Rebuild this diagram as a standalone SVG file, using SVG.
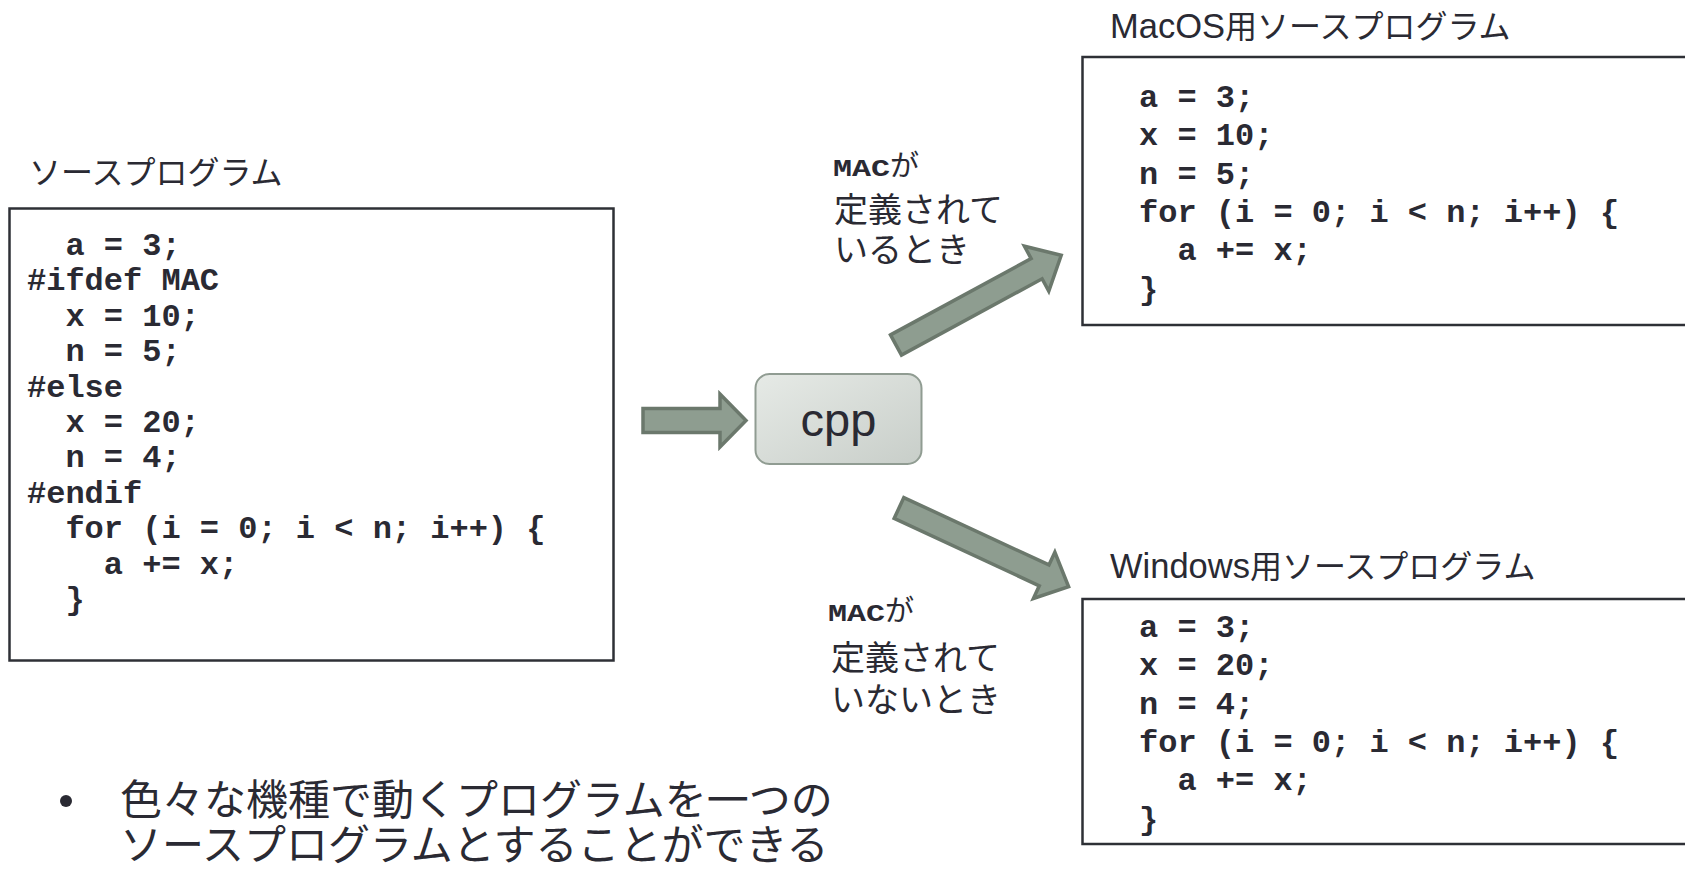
<svg xmlns="http://www.w3.org/2000/svg" width="1685" height="872" viewBox="0 0 1685 872">
<defs>
<linearGradient id="cppGrad" x1="0" y1="0" x2="1" y2="1">
<stop offset="0" stop-color="#e6eae6"/>
<stop offset="1" stop-color="#c8cec9"/>
</linearGradient>
<style>
.code{font-family:"Liberation Mono","Courier New",monospace;font-weight:bold;font-size:32px;fill:#2a2a33}
.title{font-family:"Noto Sans CJK JP",sans-serif;font-size:32px;fill:#2a2a33}
.lat{font-family:"Liberation Sans",Arial,sans-serif;font-size:34.5px}
.lbl{font-family:"Noto Sans CJK JP",sans-serif;font-size:34px;fill:#2a2a33}
.mac{font-family:"Liberation Mono","Courier New",monospace;font-weight:bold;font-size:24px}
.bullet{font-family:"Noto Sans CJK JP",sans-serif;font-size:42px;fill:#2a2a33}
.box{fill:#ffffff;stroke:#2e3036;stroke-width:2.5}
.arrow{fill:#8e9d90;stroke:#6b786c;stroke-width:3.5;stroke-linejoin:miter}
</style>
</defs>
<rect width="1685" height="872" fill="#ffffff"/>

<g id="source">
<text class="title" x="29" y="184">ソースプログラム</text>
<rect class="box" x="9.5" y="208.5" width="604" height="452"/>
<text class="code" x="65.4" y="255">a = 3;</text>
<text class="code" x="27" y="290.4">#ifdef MAC</text>
<text class="code" x="65.4" y="325.8">x = 10;</text>
<text class="code" x="65.4" y="361.2">n = 5;</text>
<text class="code" x="27" y="396.6">#else</text>
<text class="code" x="65.4" y="432">x = 20;</text>
<text class="code" x="65.4" y="467.4">n = 4;</text>
<text class="code" x="27" y="502.8">#endif</text>
<text class="code" x="65.4" y="538.2">for (i = 0; i &lt; n; i++) {</text>
<text class="code" x="103.8" y="573.6">a += x;</text>
<text class="code" x="65.4" y="609">}</text>
</g>

<g id="cpp">
<rect x="755.5" y="374" width="166" height="90" rx="14" ry="14" fill="url(#cppGrad)" stroke="#909c92" stroke-width="2"/>
<text x="838.5" y="436" text-anchor="middle" font-family="Liberation Sans, Arial, sans-serif" font-size="47" fill="#2a2a33">cpp</text>
</g>

<g id="macos">
<text class="title" x="1110" y="38"><tspan class="lat">MacOS</tspan>用ソースプログラム</text>
<rect class="box" x="1082.5" y="57" width="620" height="268"/>
<text class="code" x="1139" y="107">a = 3;</text>
<text class="code" x="1139" y="145">x = 10;</text>
<text class="code" x="1139" y="184">n = 5;</text>
<text class="code" x="1139" y="222">for (i = 0; i &lt; n; i++) {</text>
<text class="code" x="1177.4" y="260">a += x;</text>
<text class="code" x="1139" y="299">}</text>
</g>

<g id="windows">
<text class="title" x="1110" y="578"><tspan class="lat">Windows</tspan>用ソースプログラム</text>
<rect class="box" x="1082.5" y="599" width="620" height="245"/>
<text class="code" x="1139" y="637">a = 3;</text>
<text class="code" x="1139" y="675">x = 20;</text>
<text class="code" x="1139" y="714">n = 4;</text>
<text class="code" x="1139" y="752">for (i = 0; i &lt; n; i++) {</text>
<text class="code" x="1177.4" y="790">a += x;</text>
<text class="code" x="1139" y="829">}</text>
</g>

<g id="connectors">
<polygon class="arrow" transform="translate(643,420.5)" points="0,-12 77,-12 77,-26.5 103,0 77,26.5 77,12 0,12"/>
<polygon class="arrow" transform="translate(896,345) rotate(-28.5)" points="0,-11.5 160,-11.5 160,-25.5 188,0 160,25.5 160,11.5 0,11.5"/>
<polygon class="arrow" transform="translate(899,508) rotate(24.9)" points="0,-11.5 160,-11.5 160,-25.5 187,0 160,25.5 160,11.5 0,11.5"/>
</g>

<g id="label-defined">
<text class="lbl" x="833" y="176"><tspan class="mac" textLength="57" lengthAdjust="spacingAndGlyphs">MAC</tspan><tspan font-size="29">が</tspan></text>
<text class="lbl" x="834" y="222">定義されて</text>
<text class="lbl" x="834" y="262">いるとき</text>
</g>

<g id="label-undefined">
<text class="lbl" x="828" y="621"><tspan class="mac" textLength="57" lengthAdjust="spacingAndGlyphs">MAC</tspan><tspan font-size="29">が</tspan></text>
<text class="lbl" x="831" y="670">定義されて</text>
<text class="lbl" x="831" y="712">いないとき</text>
</g>

<g id="note">
<circle cx="66" cy="801" r="6" fill="#2a2a33"/>
<text class="bullet" x="120" y="815">色々な機種で動くプログラムを一つの</text>
<text class="bullet" x="120" y="860">ソースプログラムとすることができる</text>
</g>
</svg>
